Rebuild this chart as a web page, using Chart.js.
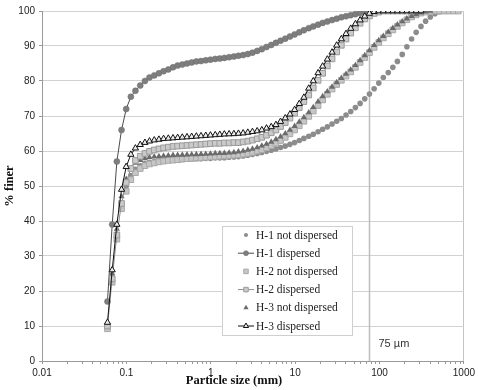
<!DOCTYPE html>
<html>
<head>
<meta charset="utf-8">
<script src="https://cdn.jsdelivr.net/npm/chart.js@4.4.1/dist/chart.umd.min.js"></script>
<style>
  html, body { margin: 0; padding: 0; background: #fff; }
  canvas { display: block; }
</style>
</head>
<body>
<canvas id="grafico" width="478" height="390"></canvas>
<script>
// classes de tamanho (mm)
const sizes = [0.0597, 0.0679, 0.0771, 0.0876, 0.0995, 0.113, 0.128, 0.146, 0.166, 0.188,
  0.214, 0.243, 0.276, 0.314, 0.357, 0.405, 0.460, 0.523, 0.594, 0.675,
  0.767, 0.872, 0.991, 1.13, 1.28, 1.45, 1.65, 1.88, 2.13, 2.42,
  2.75, 3.12, 3.55, 4.03, 4.58, 5.21, 5.92, 6.72, 7.64, 8.68,
  9.86, 11.2, 12.7, 14.5, 16.4, 18.7, 21.2, 24.1, 27.4, 31.1,
  35.3, 40.1, 45.6, 51.8, 58.9, 66.9, 76.0, 86.4, 98.1, 111,
  127, 144, 163, 186, 211, 240, 272, 310, 352, 400,
  454, 516, 586, 666, 756, 859];

// % finer de cada amostra
const h1NotDisp = [10, 24, 36, 45, 50, 53, 54.8, 55.8, 56.4, 56.8,
  57.0, 57.2, 57.3, 57.4, 57.5, 57.6, 57.6, 57.7, 57.7, 57.8,
  57.8, 57.9, 57.9, 58.0, 58.0, 58.1, 58.2, 58.3, 58.4, 58.6,
  58.8, 59.0, 59.3, 59.6, 59.9, 60.2, 60.6, 61.0, 61.4, 61.9,
  62.4, 63.0, 63.6, 64.2, 64.8, 65.5, 66.2, 66.9, 67.7, 68.5,
  69.3, 70.3, 71.3, 72.4, 73.6, 74.9, 76.3, 77.8, 79.4, 81.0,
  82.4, 83.9, 85.6, 87.6, 89.8, 92.0, 93.9, 95.6, 97.1, 98.3,
  99.2, 99.8, 100];
const h1Disp = [17, 39, 57, 66, 72, 75.5, 77.2, 78.7, 80.0, 81.0,
  81.6, 82.2, 82.8, 83.3, 83.9, 84.4, 84.7, 85.0, 85.3, 85.6,
  85.7, 85.9, 86.1, 86.3, 86.4, 86.6, 86.8, 87.0, 87.2, 87.4,
  87.7, 88.1, 88.6, 89.1, 89.7, 90.3, 90.9, 91.5, 92.1, 92.7,
  93.3, 93.9, 94.5, 95.1, 95.6, 96.1, 96.6, 97.0, 97.4, 97.8,
  98.2, 98.5, 98.8, 99.1, 99.4, 99.7, 99.9, 100];
const h2NotDisp = [9.2, 22.5, 34.8, 43.5, 48.5, 51.8, 53.8, 55.0, 55.8, 56.3,
  56.6, 56.9, 57.1, 57.3, 57.4, 57.5, 57.7, 57.8, 57.9, 58.0,
  58.1, 58.2, 58.3, 58.4, 58.5, 58.6, 58.7, 58.8, 58.9, 59.1,
  59.3, 59.6, 60.0, 60.4, 60.9, 61.5, 62.2, 63.0, 63.9, 64.9,
  66.0, 67.2, 68.5, 69.9, 71.4, 73.0, 74.6, 76.2, 77.7, 79.0,
  80.2, 81.4, 82.6, 83.9, 85.3, 86.7, 88.1, 89.6, 91.0, 92.3,
  93.5, 94.6, 95.6, 96.6, 97.5, 98.3, 98.9, 99.4, 99.7, 99.9,
  100, 100, 100, 100, 100, 100];
const h2Disp = [10, 23.5, 36, 45, 51, 55, 57.3, 58.5, 59.3, 59.9,
  60.3, 60.6, 60.9, 61.1, 61.3, 61.4, 61.5, 61.6, 61.7, 61.8,
  61.9, 62.0, 62.1, 62.2, 62.2, 62.3, 62.3, 62.4, 62.4, 62.6,
  62.8, 63.1, 63.5, 63.9, 64.5, 65.2, 66.0, 67.0, 68.1, 69.4,
  70.8, 72.4, 74.1, 76.0, 78.0, 80.2, 82.2, 84.3, 86.3, 88.3,
  90.2, 92.0, 93.7, 95.2, 96.5, 97.7, 98.6, 99.3, 99.7, 100,
  100, 100, 100, 100, 100, 100];
const h3NotDisp = [10.5, 25, 37.7, 47, 52, 55, 56.6, 57.4, 57.9, 58.2,
  58.4, 58.5, 58.6, 58.7, 58.8, 58.85, 58.9, 58.95, 59.0, 59.05,
  59.1, 59.15, 59.2, 59.3, 59.35, 59.4, 59.5, 59.6, 59.8, 60.0,
  60.3, 60.6, 61.0, 61.5, 62.0, 62.6, 63.3, 64.1, 65.0, 66.0,
  67.1, 68.3, 69.6, 71.0, 72.5, 74.1, 75.6, 77.0, 78.3, 79.6,
  80.8, 82.0, 83.2, 84.5, 85.9, 87.3, 88.7, 90.2, 91.6, 92.8,
  94.0, 95.1, 96.1, 97.0, 97.8, 98.5, 99.0, 99.5, 99.8, 100];
const h3Disp = [11, 26, 39, 49, 55.5, 59.0, 60.8, 61.8, 62.4, 62.8,
  63.1, 63.3, 63.5, 63.6, 63.7, 63.8, 63.9, 64.0, 64.1, 64.2,
  64.3, 64.4, 64.5, 64.6, 64.7, 64.8, 64.85, 64.9, 65.0, 65.1,
  65.3, 65.5, 65.7, 66.0, 66.5, 66.9, 67.5, 68.4, 69.4, 70.5,
  71.8, 73.5, 75.3, 77.9, 80.0, 82.3, 84.2, 86.2, 88.2, 90.2,
  92.0, 93.5, 95.0, 96.3, 97.4, 98.5, 99.3, 99.8, 100, 100,
  100, 100, 100, 100, 100, 100, 100, 100];

const xMajor = [0.01, 0.1, 1, 10, 100, 1000];
const xTickLabels = ["0.01", "0.1", "1", "10", "100", "1000"];
const sieveSize = 75;
const sieveLabel = "75 \u00b5m";

function pontos(valores) {
  return valores.map((v, i) => ({ x: sizes[i], y: v }));
}

// linha vertical do peneiramento + rotulo
const linhaPeneira = {
  id: "linhaPeneira",
  beforeDatasetsDraw(chart) {
    const { ctx, chartArea, scales } = chart;
    const x = Math.round(scales.x.getPixelForValue(sieveSize)) + 0.5;
    ctx.save();
    ctx.strokeStyle = "#bdbdbd";
    ctx.lineWidth = 1.5;
    ctx.beginPath();
    ctx.moveTo(x, chartArea.top);
    ctx.lineTo(x, chartArea.bottom);
    ctx.stroke();
    ctx.fillStyle = "#333";
    ctx.font = "11px 'Liberation Sans', Arial, sans-serif";
    ctx.textBaseline = "middle";
    ctx.fillText(sieveLabel, x + 9, 344);
    ctx.restore();
  }
};

// legenda dentro do grafico e titulos dos eixos
const legendaBox = {
  id: "legendaBox",
  afterDraw(chart) {
    const ctx = chart.ctx;
    ctx.save();
    ctx.fillStyle = "#fff";
    ctx.fillRect(222, 226, 130, 109);
    ctx.strokeStyle = "#cfcfcf";
    ctx.lineWidth = 1;
    ctx.strokeRect(222.5, 226.5, 130, 109);

    chart.data.datasets.forEach((ds, i) => {
      const y = 235 + i * 18.2;
      if (ds.showLine) {
        ctx.strokeStyle = ds.borderColor;
        ctx.lineWidth = 1;
        ctx.beginPath();
        ctx.moveTo(238, y);
        ctx.lineTo(254, y);
        ctx.stroke();
      }
      ctx.fillStyle = ds.pointBackgroundColor;
      ctx.strokeStyle = ds.pointBorderColor;
      ctx.lineWidth = ds.pointBorderWidth;
      Chart.helpers.drawPoint(ctx, {
        pointStyle: ds.pointStyle,
        rotation: 0,
        radius: ds.legendRadius,
        borderWidth: ds.pointBorderWidth
      }, 246, y);
      ctx.fillStyle = "#222";
      ctx.font = "11.5px 'Liberation Serif', 'Times New Roman', serif";
      ctx.textBaseline = "middle";
      ctx.fillText(ds.label, 256, y + 0.5);
    });

    ctx.fillStyle = "#111";
    ctx.font = "bold 12.5px 'Liberation Serif', 'Times New Roman', serif";
    ctx.textAlign = "center";
    ctx.textBaseline = "middle";
    ctx.fillText("Particle size (mm)", 234, 381);
    ctx.translate(10, 186);
    ctx.rotate(-Math.PI / 2);
    ctx.fillText("% finer", 0, 0);
    ctx.restore();
  }
};

Chart.defaults.font.family = "'Liberation Sans', Arial, sans-serif";
Chart.defaults.font.size = 10;
Chart.defaults.color = "#222";

const ctx = document.getElementById("grafico");

new Chart(ctx, {
  type: "scatter",
  data: {
    datasets: [
      {
        label: "H-1 not dispersed",
        data: pontos(h1NotDisp),
        showLine: false,
        pointStyle: "circle",
        pointRadius: 2.8,
        legendRadius: 2,
        pointBackgroundColor: "#8c8c8c",
        pointBorderColor: "#8c8c8c",
        pointBorderWidth: 0,
        borderColor: "#8c8c8c",
        order: 5
      },
      {
        label: "H-1 dispersed",
        data: pontos(h1Disp),
        showLine: true,
        borderColor: "#4a4a4a",
        borderWidth: 1,
        pointStyle: "circle",
        pointRadius: 3,
        legendRadius: 2.5,
        pointBackgroundColor: "#7e7e7e",
        pointBorderColor: "#6c6c6c",
        pointBorderWidth: 0.5,
        order: 2
      },
      {
        label: "H-2 not dispersed",
        data: pontos(h2NotDisp),
        showLine: false,
        pointStyle: "rect",
        pointRadius: 4,
        legendRadius: 3.2,
        pointBackgroundColor: "#c6c6c6",
        pointBorderColor: "#a8a8a8",
        pointBorderWidth: 1,
        borderColor: "#a8a8a8",
        order: 4
      },
      {
        label: "H-2 dispersed",
        data: pontos(h2Disp),
        showLine: true,
        borderColor: "#8f8f8f",
        borderWidth: 1,
        pointStyle: "rect",
        pointRadius: 4,
        legendRadius: 3.2,
        pointBackgroundColor: "#cacaca",
        pointBorderColor: "#9a9a9a",
        pointBorderWidth: 1,
        order: 1
      },
      {
        label: "H-3 not dispersed",
        data: pontos(h3NotDisp),
        showLine: false,
        pointStyle: "triangle",
        pointRadius: 3.6,
        legendRadius: 3,
        pointBackgroundColor: "#6b6b6b",
        pointBorderColor: "#6b6b6b",
        pointBorderWidth: 0,
        borderColor: "#6b6b6b",
        order: 3
      },
      {
        label: "H-3 dispersed",
        data: pontos(h3Disp),
        showLine: true,
        borderColor: "#111",
        borderWidth: 1,
        pointStyle: "triangle",
        pointRadius: 3.6,
        legendRadius: 3,
        pointBackgroundColor: "#ececec",
        pointBorderColor: "#111",
        pointBorderWidth: 1,
        order: 0
      }
    ]
  },
  options: {
    responsive: false,
    animation: false,
    devicePixelRatio: 1,
    layout: { padding: { top: 11, right: 11, left: 0, bottom: 0 } },
    plugins: {
      legend: { display: false },
      tooltip: { enabled: false }
    },
    elements: { line: { tension: 0 } },
    scales: {
      x: {
        type: "logarithmic",
        min: 0.01,
        max: 1000,
        afterBuildTicks(scale) {
          const t = [];
          xMajor.forEach((d, k) => {
            t.push({ value: d });
            if (k < xMajor.length - 1) {
              for (let m = 2; m <= 9; m++) t.push({ value: d * m });
            }
          });
          scale.ticks = t;
        },
        afterFit(scale) { scale.height = 29; },
        ticks: {
          autoSkip: false,
          maxRotation: 0,
          padding: 3,
          color: "#222",
          callback: (v) => {
            const k = xMajor.indexOf(v);
            return k >= 0 ? xTickLabels[k] : "";
          }
        },
        grid: {
          drawOnChartArea: true,
          color: (c) => (c.tick && c.tick.value === 1000 ? "#c4c4c4" : "rgba(0,0,0,0)"),
          tickColor: "#9a9a9a",
          tickLength: 3
        },
        border: { color: "#9a9a9a" }
      },
      y: {
        min: 0,
        max: 100,
        afterFit(scale) { scale.width = 42; },
        ticks: { stepSize: 10, padding: 4, color: "#222" },
        grid: { color: "#d2d2d2", tickColor: "#9a9a9a", tickLength: 3 },
        border: { color: "#9a9a9a" }
      }
    }
  },
  plugins: [linhaPeneira, legendaBox]
});
</script>
</body>
</html>
